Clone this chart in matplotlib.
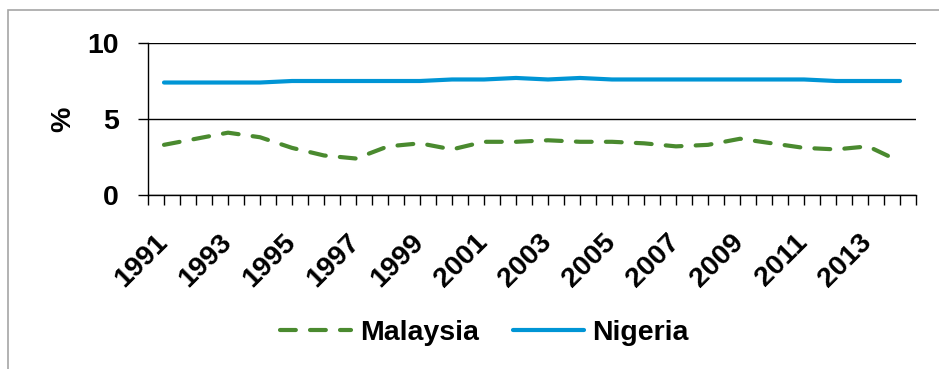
import numpy as np
import matplotlib
matplotlib.use('Agg')
import matplotlib.pyplot as plt
from matplotlib.patches import Rectangle

# unemployment-type rate, %, by year
years = list(range(1991, 2015))
malaysia = [3.3, 3.7, 4.1, 3.8, 3.1, 2.6, 2.4, 3.2, 3.4, 3.0, 3.5, 3.5,
            3.6, 3.5, 3.5, 3.4, 3.2, 3.3, 3.7, 3.4, 3.1, 3.0, 3.2, 2.2]
nigeria = [7.4, 7.4, 7.4, 7.4, 7.5, 7.5, 7.5, 7.5, 7.5, 7.6, 7.6, 7.7,
           7.6, 7.7, 7.6, 7.6, 7.6, 7.6, 7.6, 7.6, 7.6, 7.5, 7.5, 7.5]
y_ticks = [0, 5, 10]

plt.rcParams['font.family'] = ['Liberation Sans', 'DejaVu Sans']
plt.rcParams['font.weight'] = 'bold'

W, H = 939, 369
FS = 20.5
fig = plt.figure(figsize=(W / 100, H / 100), dpi=100)

# light grey chart frame (only top/left edges are visible)
fig.patches.append(Rectangle((8 / W, -0.1), 1.2, (H - 10) / H + 0.1,
                             transform=fig.transFigure, fill=False,
                             edgecolor='#a6a6a6', linewidth=1.2))

ax = fig.add_axes([148 / W, 174 / H, 768 / W, 152 / H])

idx = np.arange(len(years))
green = '#4a8a2f'
blue = '#0095d5'

ax.plot(idx, malaysia, color=green, linewidth=3, linestyle=(0, (3.8, 3.4)),
        dash_capstyle='round', solid_capstyle='round', label='Malaysia', zorder=3)
ax.plot(idx, nigeria, color=blue, linewidth=3, solid_capstyle='round',
        label='Nigeria', zorder=3)

ax.set_xlim(-0.5, len(years) - 0.5)
ax.set_ylim(0, 10)

# tick marks at category edges and centres, labels on every other year
tick_pos = np.arange(-0.5, len(years), 0.5)
tick_lab = []
for p in tick_pos:
    if p == int(p) and int(p) % 2 == 0:
        tick_lab.append(str(years[int(p)]))
    else:
        tick_lab.append('')
ax.set_xticks(tick_pos, tick_lab)
for lab in ax.get_xticklabels():
    lab.set_rotation(45)
    lab.set_rotation_mode('anchor')
    lab.set_ha('right')
    lab.set_va('center')
ax.tick_params(axis='x', length=7.2, width=1, color='black', pad=24,
               labelsize=FS)

ax.set_yticks(y_ticks)
ax.tick_params(axis='y', length=7.2, width=1, color='black', pad=14,
               labelsize=FS)
ax.yaxis.grid(True, color='black', linewidth=1)
ax.set_axisbelow(True)

for s in ['top', 'right']:
    ax.spines[s].set_visible(False)
for s in ['left', 'bottom']:
    ax.spines[s].set_color('black')
    ax.spines[s].set_linewidth(1)

ax.set_ylabel('%', fontsize=FS, fontweight='bold', labelpad=8)

ax.legend(loc='center', bbox_to_anchor=(0.5 * (286 + 683) / W, 1 - 333 / H),
          bbox_transform=fig.transFigure, ncol=2, frameon=False,
          fontsize=FS, handlelength=2.5, handletextpad=0.3,
          columnspacing=1.2)

fig.savefig('out.png', dpi=100)
